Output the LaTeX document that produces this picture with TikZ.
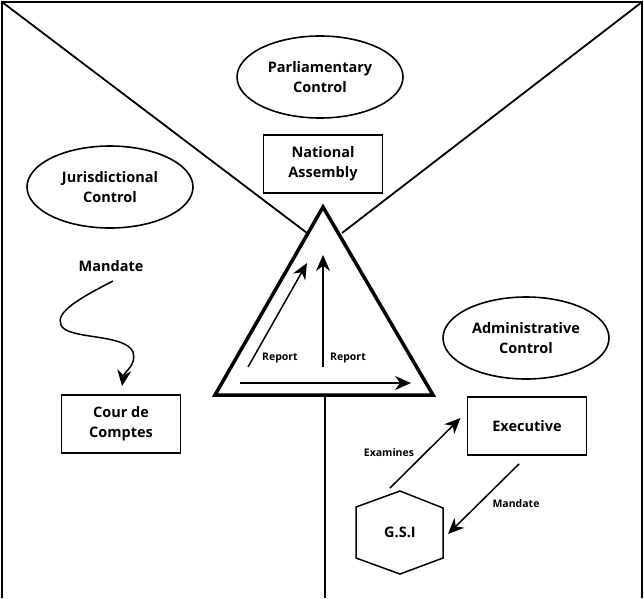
\documentclass[tikz,border=0pt]{standalone}
\usepackage{fontspec}
\setmainfont{Open Sans}
\usetikzlibrary{arrows.meta,calc,shapes.geometric}
\begin{document}
\begin{tikzpicture}[x=1pt,y=-1pt,
  lbl/.style={font=\bfseries\fontsize{14.5}{20}\selectfont,align=center,inner sep=0pt},
  small/.style={font=\bfseries\fontsize{10.5}{12}\selectfont,inner sep=0pt},
  boxn/.style={draw,line width=1.9pt,lbl,minimum width=119pt,minimum height=58pt},
  ell/.style={draw,ellipse,line width=1.6pt,lbl,minimum width=166pt,minimum height=82pt},
  arr/.style={line width=1.5pt,-{Stealth[length=16pt,width=14pt]}},
  frame/.style={line width=2pt},
  thin/.style={line width=1.8pt}]
\useasboundingbox (0,0) rectangle (644,598);
% frame
\coordinate (bl) at (2,598);
\coordinate (tl) at (2,2);
\coordinate (tr) at (642,2);
\coordinate (br) at (642,598);
\draw[frame] (bl) -- (tl) -- (tr) -- (br);
% triangle
\coordinate (ta) at (323,207);
\coordinate (tbl) at (215,395);
\coordinate (tbr) at (433,395);
\coordinate (tlh) at (307,233);
\coordinate (trh) at (342,233);
\coordinate (tbm) at (325,397);
\coordinate (bm) at (325,598);
\draw[thin] (tl) -- (tlh);
\draw[thin] (tr) -- (trh);
\draw[thin] (tbm) -- (bm);
\draw[line width=3.5pt,line join=miter] (ta) -- (tbl) -- (tbr) -- cycle;
% inner arrows
\coordinate (r1s) at (248,367);
\coordinate (r1e) at (307,263);
\coordinate (r2s) at (323,367);
\coordinate (r2e) at (323,255);
\coordinate (r3s) at (240,383);
\coordinate (r3e) at (411,383);
\draw[arr] (r1s) -- (r1e);
\draw[arr] (r2s) -- (r2e);
\draw[arr] (r3s) -- (r3e);
\node[small] (rep1) at (280,358) {Report};
\node[small] (rep2) at (348,358) {Report};
% ellipses
\node[ell] (parl) at (320,77) {Parliamentary\\Control};
\node[ell] (juris) at (110,187) {Jurisdictional\\Control};
\node[ell] (admin) at (526,338) {Administrative\\Control};
% boxes
\node[boxn] (na) at (323,164) {National\\Assembly};
\node[boxn] (cour) at (121,424) {Cour de\\Comptes};
\node[boxn] (exe) at (527,426) {Executive};
% mandate wavy
\node[lbl] (mand) at (111,266) {Mandate};
\draw[arr] ([shift={(2,15)}]mand.center) .. controls (80,298) and (55,312) .. (61,325)
  .. controls (67,340) and (125,333) .. (133,352)
  .. controls (137,365) and (124,372) .. ([shift={(1,-8)}]cour.north);
% GSI hexagon
\node[lbl] (gsi) at (400,532) {G.S.I};
\draw[line width=1.5pt,line join=miter] ($(gsi)+(0,-41)$) -- ($(gsi)+(43,-24)$) -- ($(gsi)+(43,26)$)
  -- ($(gsi)+(0,42)$) -- ($(gsi)+(-44,26)$) -- ($(gsi)+(-44,-25)$) -- cycle;
% GSI <-> Executive
\draw[arr] ($(gsi)+(-10,-44)$) -- ([shift={(-6,-38)}]exe.south west);
\draw[arr] ([shift={(-8,8)}]exe.south) -- ($(gsi)+(48,2)$);
\node[small] (exam) at (389,453) {Examines};
\node[small] (mand2) at (516,504) {Mandate};
\end{tikzpicture}
\end{document}
